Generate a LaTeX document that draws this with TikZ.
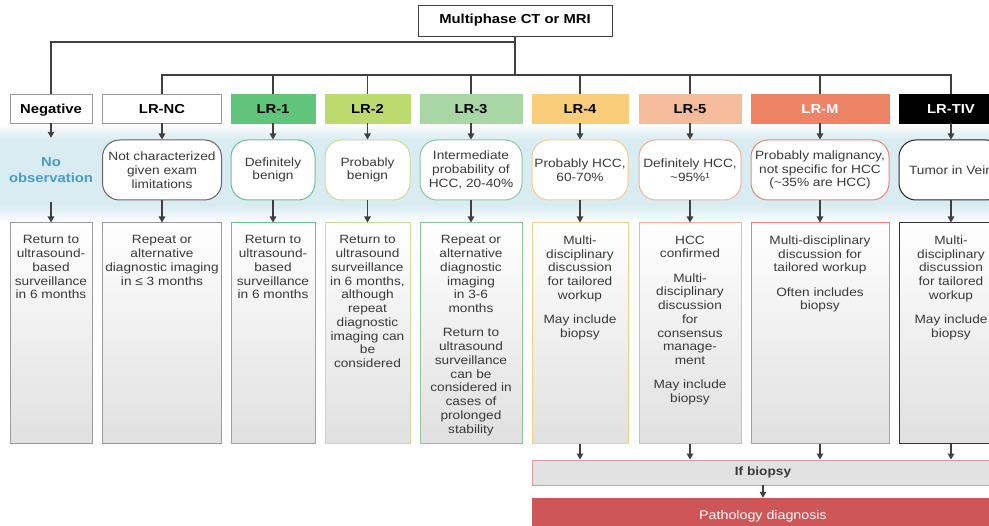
\documentclass[tikz,border=0pt]{standalone}
\usepackage{fontspec}
\setmainfont{Liberation Sans}[FakeStretch=1.14]
\usetikzlibrary{arrows.meta}

% palette
\definecolor{lnc}{HTML}{404040}
\definecolor{txt}{HTML}{3A3A3A}
\definecolor{graybd}{HTML}{9A9A9A}
\definecolor{band}{HTML}{D9ECF2}
\definecolor{botgray}{HTML}{E0E0E0}
\definecolor{obsblue}{HTML}{4A9CC8}
\definecolor{cOne}{HTML}{60C47A}
\definecolor{cTwo}{HTML}{BCDA6E}
\definecolor{cThree}{HTML}{A8D6A4}
\definecolor{cFour}{HTML}{F9CD7A}
\definecolor{cFive}{HTML}{F5BC9C}
\definecolor{cM}{HTML}{EE8466}
\definecolor{bOne}{HTML}{6CC389}
\definecolor{bTwo}{HTML}{CADF96}
\definecolor{bThree}{HTML}{8CC89A}
\definecolor{bFour}{HTML}{F3CF8E}
\definecolor{bFive}{HTML}{EFB59A}
\definecolor{bM}{HTML}{E08A78}
\definecolor{ifbd}{HTML}{D99A9A}
\definecolor{ifbg}{HTML}{E2E2E2}
\definecolor{pathred}{HTML}{CF5656}

\begin{document}
\begin{tikzpicture}[x=1pt,y=-1pt,
  ln/.style={line width=1.1pt, draw=lnc},
  arr/.style={ln, -{Triangle[length=6pt,width=6.5pt]}},
  cat/.style={draw, line width=0.8pt, minimum height=29pt, inner sep=0pt,
    text height=9.4pt, text depth=0pt,
    font=\bfseries\fontsize{13}{15}\selectfont},
  mid/.style={draw, line width=1pt, rounded corners=17pt, fill=white,
    minimum height=60pt, inner sep=2pt, align=center, text=txt,
    font=\fontsize{12}{13.75}\selectfont},
  bot/.style={draw, line width=1pt, minimum height=221pt, inner sep=0pt,
    top color=white, bottom color=botgray},
  btxt/.style={anchor=north, align=center, inner sep=0pt, text=txt,
    font=\fontsize{12}{13.75}\selectfont},
]
\clip (0,0) rectangle (989,526);
\fill[white] (0,0) rectangle (989,526);

% light blue band behind the middle row
\shade[top color=white, bottom color=band] (-2,123) rectangle (991,140);
\fill[band] (-2,139.5) rectangle (991,205.5);
\shade[top color=band, bottom color=white] (-2,205) rectangle (991,223);

% root
\node[draw=lnc, line width=0.9pt, minimum width=194pt, minimum height=31pt,
  inner sep=0pt, font=\bfseries\fontsize{13}{15}\selectfont] (top) at (515,20.5)
  {Multiphase CT or MRI};

% category row
\node[cat, minimum width=82pt, draw=graybd, fill=white] (neg) at (51,108.5) {Negative};
\node[cat, minimum width=119pt, draw=graybd, fill=white] (nc) at (162,108.5) {LR-NC};
\node[cat, minimum width=84pt, draw=cOne, fill=cOne] (lr1) at (273,108.5) {LR-1};
\node[cat, minimum width=85pt, draw=cTwo, fill=cTwo] (lr2) at (367.5,108.5) {LR-2};
\node[cat, minimum width=102pt, draw=cThree, fill=cThree] (lr3) at (471,108.5) {LR-3};
\node[cat, minimum width=96pt, draw=cFour, fill=cFour] (lr4) at (580,108.5) {LR-4};
\node[cat, minimum width=102pt, draw=cFive, fill=cFive] (lr5) at (690,108.5) {LR-5};
\node[cat, minimum width=138pt, draw=cM, fill=cM, text=white] (lrm) at (820,108.5) {LR-M};
\node[cat, minimum width=104pt, draw=black, fill=black, text=white] (tiv) at (951,108.5) {LR-TIV};

% tree from the root
\coordinate (j1) at (515,42);
\coordinate (j2) at (515,75);
\draw[ln] (top.south) -- (j2);
\draw[ln] (j1) -| (neg.north);
\draw[ln] (nc.north) |- (j2) -| (tiv.north);
\foreach \n in {lr1,lr2,lr3,lr4,lr5,lrm}
  \draw[ln] (\n.north) -- (\n.north |- j2);

% middle row
\node[align=center, inner sep=0pt, minimum height=64pt, text=obsblue,
  font=\bfseries\fontsize{13}{16}\selectfont] (nobs) at (51,170) {No\\observation};
\node[mid, minimum width=119pt, draw=lnc!80] (mnc) at (162,170)
  {Not characterized\\given exam\\limitations};
\node[mid, minimum width=84pt, draw=bOne] (mlr1) at (273,170) {Definitely\\benign};
\node[mid, minimum width=85pt, draw=bTwo] (mlr2) at (367.5,170) {Probably\\benign};
\node[mid, minimum width=102pt, draw=bThree] (mlr3) at (471,170)
  {Intermediate\\probability of\\HCC, 20-40\%};
\node[mid, minimum width=96pt, draw=bFour] (mlr4) at (580,170) {Probably HCC,\\60-70\%};
\node[mid, minimum width=102pt, draw=bFive] (mlr5) at (690,170)
  {Definitely HCC,\\\textasciitilde95\%¹};
\node[mid, minimum width=138pt, draw=bM] (mlrm) at (820,170)
  {Probably malignancy,\\not specific for HCC\\(\textasciitilde35\% are HCC)};
\node[mid, minimum width=104pt, draw=black!85] (mtiv) at (951,170) {Tumor in Vein};

% bottom row boxes
\node[bot, minimum width=82pt, draw=graybd] (bneg) at (51,333.5) {};
\node[bot, minimum width=119pt, draw=graybd] (bnc) at (162,333.5) {};
\node[bot, minimum width=84pt, draw=bOne] (blr1) at (273,333.5) {};
\node[bot, minimum width=85pt, draw=bTwo] (blr2) at (367.5,333.5) {};
\node[bot, minimum width=102pt, draw=bThree] (blr3) at (471,333.5) {};
\node[bot, minimum width=96pt, draw=bFour] (blr4) at (580,333.5) {};
\node[bot, minimum width=102pt, draw=bFive] (blr5) at (690,333.5) {};
\node[bot, minimum width=138pt, draw=bM] (blrm) at (820,333.5) {};
\node[bot, minimum width=104pt, draw=black!80] (btiv) at (951,333.5) {};

% bottom row texts
\node[btxt] (tneg) at ([yshift=-13pt]bneg.north)
  {Return to\\ultrasound-\\based\\surveillance\\in 6 months};
\node[btxt] (tnc) at ([yshift=-13pt]bnc.north)
  {Repeat or\\alternative\\diagnostic imaging\\in ≤ 3 months};
\node[btxt] (tlr1) at ([yshift=-13pt]blr1.north)
  {Return to\\ultrasound-\\based\\surveillance\\in 6 months};
\node[btxt] (tlr2) at ([yshift=-13pt]blr2.north)
  {Return to\\ultrasound\\surveillance\\in 6 months,\\although\\repeat\\diagnostic\\imaging can\\be\\considered};
\node[btxt] (tlr3) at ([yshift=-13pt]blr3.north)
  {Repeat or\\alternative\\diagnostic\\imaging\\in 3-6\\months\\[10.5pt]Return to\\ultrasound\\surveillance\\can be\\considered in\\cases of\\prolonged\\stability};
\node[btxt] (tlr4) at ([yshift=-13pt]blr4.north)
  {Multi-\\disciplinary\\discussion\\for tailored\\workup\\[10.5pt]May include\\biopsy};
\node[btxt] (tlr5) at ([yshift=-13pt]blr5.north)
  {HCC\\confirmed\\[10.5pt]Multi-\\disciplinary\\discussion\\for\\consensus\\manage-\\ment\\[10.5pt]May include\\biopsy};
\node[btxt] (tlrm) at ([yshift=-13pt]blrm.north)
  {Multi-disciplinary\\discussion for\\tailored workup\\[10.5pt]Often includes\\biopsy};
\node[btxt] (ttiv) at ([yshift=-13pt]btiv.north)
  {Multi-\\disciplinary\\discussion\\for tailored\\workup\\[10.5pt]May include\\biopsy};

% arrows through the middle row
\draw[arr] (neg.south) -- (nobs.north);
\draw[arr] (nobs.south) -- (bneg.north);
\foreach \n in {nc,lr1,lr2,lr3,lr4,lr5,lrm,tiv}{
  \draw[arr] (\n.south) -- (m\n.north);
  \draw[arr] (m\n.south) -- (b\n.north);
}

% biopsy path
\node[draw=ifbd, line width=0.9pt, fill=ifbg, minimum width=462pt, minimum height=25pt,
  inner sep=0pt, text=txt, font=\bfseries\fontsize{12}{14}\selectfont] (ifb) at (763,472.5)
  {If biopsy};
\node[fill=pathred, minimum width=462pt, minimum height=37pt, inner sep=0pt,
  text=white, font=\fontsize{12.5}{14}\selectfont] (patho) at (763,516.5)
  {\raisebox{2pt}{Pathology diagnosis}};
\foreach \n in {blr4,blr5,blrm,btiv}
  \draw[arr] (\n.south) -- (\n.south |- ifb.north);
\draw[arr] (ifb.south) -- (patho.north);
\end{tikzpicture}
\end{document}
